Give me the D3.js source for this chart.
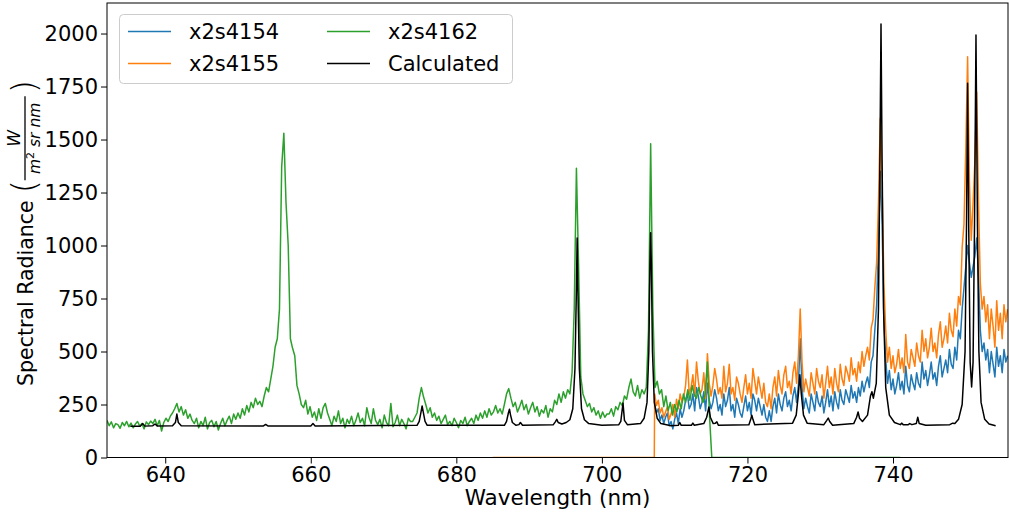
<!DOCTYPE html>
<html>
<head>
<meta charset="utf-8">
<script src="https://cdn.jsdelivr.net/npm/d3@7"></script>
<style>
  body { margin: 0; background: #fff; }
  text { font-family: "DejaVu Sans", sans-serif; }
</style>
</head>
<body>
<div id="chart"></div>
<script>
// Spectral data (wavelength in nm, radiance in W/(m^2 sr nm))

// x2s4162 (green) sampled every 0.3 nm from 632 nm
var greenStart = 632, greenStep = 0.3;
var greenValues = [
  175, 150, 168, 140, 160, 155, 138, 165, 150, 170,
  145, 162, 140, 158, 170, 148, 160, 135, 168, 155,
  172, 160, 180, 150, 175, 125, 165, 185, 170, 195,
  210, 230, 255, 215, 240, 200, 225, 185, 205, 175,
  160, 185, 140, 170, 150, 190, 135, 165, 175, 145,
  170, 130, 160, 185, 150, 175, 195, 160, 205, 180,
  210, 185, 230, 200, 245, 215, 260, 235, 280, 250,
  265, 240, 290, 330, 310, 370, 430, 520, 560, 700,
  1370, 1530, 1200, 1000, 560, 515, 480, 340, 300, 250,
  235, 270, 205, 240, 190, 215, 175, 230, 185, 235,
  255, 210, 180, 150, 195, 170, 220, 160, 185, 140,
  180, 160, 195, 150, 175, 210, 165, 185, 150, 235,
  190, 160, 230, 175, 155, 180, 140, 200, 165, 150,
  255, 145, 165, 200, 150, 180, 160, 135, 185, 170,
  170, 190, 210, 280, 330, 285, 250, 210, 235, 190,
  210, 175, 195, 160, 180, 200, 155, 170, 150, 185,
  165, 140, 175, 160, 190, 150, 170, 185, 160, 200,
  175, 210, 185, 220, 190, 230, 200, 215, 245, 210,
  230, 205, 250, 300, 325, 280, 240, 260, 215, 240,
  270, 225, 250, 205, 235, 260, 215, 240, 195, 225,
  210, 245, 190, 230, 215, 270, 250, 300, 260, 310,
  280, 320, 300, 400, 700, 1365, 900, 380, 300, 270,
  240, 255, 215, 235, 200, 220, 185, 215, 190, 205,
  205, 230, 195, 240, 225, 260, 245, 290, 275, 330,
  370, 310, 290, 340, 280, 320, 300, 330, 600, 1480,
  700, 330, 360, 300, 320, 240, 290, 220, 260, 200,
  250, 215, 270, 230, 300, 260, 320, 270, 340, 295,
  280, 330, 290, 260, 300, 450, 190, 0
];
var greenTail = [[741, 0]];

// x2s4154 (blue) and x2s4155 (orange) sampled every 0.25 nm from 707.25 nm
var pairStart = 707.25, pairStep = 0.25;
var orangeLead = [[685, 0], [707.2, 0]];
var orangeValues = [
  300, 245, 270, 210, 235, 190, 215, 240,
  180, 205, 250, 190, 275, 230, 300, 260,
  285, 340, 460, 300, 330, 390, 290, 450,
  360, 300, 320, 400, 280, 490, 350, 290,
  340, 420, 370, 300, 330, 280, 430, 310,
  350, 440, 300, 330, 270, 380, 350, 300,
  260, 330, 390, 300, 350, 280, 420, 360,
  300, 380, 330, 280, 350, 260, 240, 300,
  230, 330, 380, 290, 410, 340, 300, 390,
  430, 330, 360, 300, 400, 450, 350, 480,
  700, 450, 310, 370, 330, 290, 400, 350,
  300, 420, 360, 330, 390, 280, 350, 430,
  330, 380, 300, 420, 350, 310, 440, 370,
  340, 430, 400, 360, 470, 390, 420, 360,
  450, 400, 500, 430, 480, 520, 460, 610,
  650, 800, 920, 1200, 1600, 1280, 820, 600,
  450, 520, 420, 480, 400, 440, 510, 420,
  470, 400, 580, 450, 420, 510, 470, 430,
  540, 480, 450, 600, 500, 560, 470, 520,
  610, 500, 540, 470, 580, 640, 520, 560,
  620, 540, 680, 600, 570, 700, 620, 760,
  720, 990, 1100, 1450, 1890, 1300, 1025, 1200,
  1400, 1724, 1200, 820, 700, 760, 640, 720,
  560, 700, 620, 520, 740, 600, 680, 560, 720, 640, 700
];
var blueValues = [
  250, 210, 230, 175, 200, 160, 190, 210,
  150, 170, 135, 180, 210, 160, 230, 190,
  220, 270, 300, 230, 250, 300, 220, 330,
  290, 230, 260, 310, 220, 350, 270, 230,
  260, 320, 280, 220, 250, 200, 300, 240,
  270, 330, 220, 250, 190, 280, 250, 210,
  190, 240, 290, 220, 260, 200, 300, 270,
  220, 280, 240, 200, 250, 190, 170, 220,
  170, 240, 280, 210, 300, 250, 220, 280,
  310, 240, 270, 220, 290, 330, 260, 340,
  560, 330, 230, 280, 240, 210, 300, 260,
  220, 310, 260, 240, 290, 210, 260, 320,
  240, 290, 220, 310, 260, 230, 320, 270,
  250, 320, 290, 260, 340, 280, 310, 260,
  330, 290, 360, 310, 350, 380, 330, 450,
  480, 600, 720, 1000, 1350, 1100, 650, 460,
  350, 410, 320, 370, 300, 340, 400, 320,
  360, 300, 430, 340, 310, 390, 350, 320,
  400, 350, 330, 450, 370, 410, 340, 390,
  450, 370, 400, 340, 430, 480, 380, 420,
  460, 400, 510, 440, 420, 520, 460, 600,
  560, 700, 800, 900, 1000, 920, 850, 900,
  950, 1035, 850, 600, 500, 540, 460, 510,
  400, 500, 440, 380, 520, 430, 480, 400, 510, 450, 480
];

// Calculated spectrum (black): [wavelength, radiance]
var calculated = [
  [635.2,148],[636.6,148],[636.9,160],[637.2,148],[638.3,150],[638.6,158],[638.9,149],
  [641.0,150],[641.4,165],[641.6,205],[641.8,165],[642.2,150],[653.5,149],[653.8,156],[654.1,149],
  [660.0,149],[660.3,160],[660.6,149],[674.6,152],[674.9,170],[675.15,215],[675.3,243],[675.45,215],
  [675.7,170],[676.0,152],[686.6,152],[686.9,170],[687.15,210],[687.3,228],[687.45,200],[687.7,165],
  [688.2,152],[688.6,155],[688.8,165],[689.1,152],[693.3,154],[693.6,168],[693.8,180],[694.0,165],
  [694.5,158],[695.1,165],[695.6,178],[696.0,230],[696.3,420],[696.5,800],[696.6,1035],[696.7,800],
  [696.9,420],[697.2,230],[697.6,178],[698.2,160],[700.0,152],[702.3,154],[702.6,170],[702.9,257],
  [703.1,175],[703.5,155],[705.3,160],[705.8,185],[706.2,260],[706.45,500],[706.6,900],[706.7,1060],
  [706.8,900],[706.95,500],[707.2,260],[707.6,185],[708.1,160],[709.5,150],[710.5,152],[710.7,165],
  [710.9,152],[712.3,152],[712.5,162],[712.7,152],[714.0,160],[714.4,190],[714.7,238],[714.9,190],
  [715.3,160],[715.6,162],[715.8,168],[716.0,152],[720.2,155],[720.45,180],[720.6,200],[720.75,180],
  [721.0,155],[726.2,162],[726.7,200],[727.0,300],[727.2,390],[727.4,300],[727.7,200],[728.2,162],
  [730.5,155],[730.9,175],[731.1,186],[731.3,170],[731.7,152],[734.6,160],[735.0,190],[735.2,215],
  [735.4,185],[735.8,170],[736.5,200],[736.9,290],[737.1,310],[737.3,280],[737.7,350],[738.0,700],
  [738.2,1400],[738.35,2045],[738.5,1400],[738.7,700],[739.0,330],[739.5,200],[740.2,165],[741.0,155],
  [741.2,162],[741.4,155],[742.1,155],[742.3,160],[742.6,155],[743.2,160],[743.4,190],[743.6,160],
  [744.5,152],[747.8,155],[748.2,162],[748.5,160],[749.0,180],[749.5,250],[749.9,500],[750.1,1100],
  [750.25,1765],[750.4,1100],[750.6,450],[750.8,333],[751.0,450],[751.2,1100],[751.4,1993],[751.6,1100],
  [751.8,500],[752.1,260],[752.6,180],[753.2,158],[754.1,150]
];

var xTicks = [640, 660, 680, 700, 720, 740];
var yTicks = [0, 250, 500, 750, 1000, 1250, 1500, 1750, 2000];
var seriesNames = ["x2s4154", "x2s4155", "x2s4162", "Calculated"];
var seriesColors = ["#1f77b4", "#ff7f0e", "#2ca02c", "#000000"];

// Build point lists
var green = greenValues.map((v, i) => [greenStart + i * greenStep, v]).concat(greenTail);
var orange = orangeLead.concat(orangeValues.map((v, i) => [pairStart + i * pairStep, v]));
var blue = blueValues.map((v, i) => [pairStart + i * pairStep, v]);

// Dimensions
var svgWidth = 1009;
var svgHeight = 516;
var margin = { top: 3, bottom: 58.5, left: 107, right: 1 };
var width = svgWidth - margin.left - margin.right;
var height = svgHeight - margin.top - margin.bottom;

var svg = d3.select("#chart")
  .append("svg")
  .attr("width", svgWidth)
  .attr("height", svgHeight);

var chartGroup = svg.append("g")
  .attr("transform", `translate(${margin.left}, ${margin.top})`);

var xScale = d3.scaleLinear().domain([632, 755.8]).range([0, width]);
var yScale = d3.scaleLinear().domain([0, 2144]).range([height, 0]);

chartGroup.append("clipPath")
  .attr("id", "plotClip")
  .append("rect")
  .attr("width", width)
  .attr("height", height);

var line = d3.line()
  .x(d => xScale(d[0]))
  .y(d => yScale(d[1]));

// Draw series in legend order
var allSeries = [blue, orange, green, calculated];
var linesGroup = chartGroup.append("g").attr("clip-path", "url(#plotClip)");
allSeries.forEach(function (data, i) {
  linesGroup.append("path")
    .datum(data)
    .attr("d", line)
    .attr("fill", "none")
    .attr("stroke", seriesColors[i])
    .attr("stroke-width", 1.5)
    .attr("stroke-linejoin", "round");
});

// Axes
var bottomAxis = d3.axisBottom(xScale).tickValues(xTicks).tickSize(6).tickPadding(4).tickFormat(d3.format("d"));
var leftAxis = d3.axisLeft(yScale).tickValues(yTicks).tickSize(6).tickPadding(3).tickFormat(d3.format("d"));

var xAxis = chartGroup.append("g")
  .attr("transform", `translate(0, ${height})`)
  .call(bottomAxis);
var yAxis = chartGroup.append("g").call(leftAxis);

[xAxis, yAxis].forEach(function (ax) {
  ax.select(".domain").remove();
  ax.selectAll("text")
    .attr("fill", "#000")
    .style("font-family", "DejaVu Sans")
    .style("font-size", "21px");
  ax.selectAll("line").attr("stroke", "#000").attr("stroke-width", 1);
});

// Frame
chartGroup.append("rect")
  .attr("width", width)
  .attr("height", height)
  .attr("fill", "none")
  .attr("stroke", "#000")
  .attr("stroke-width", 1);

// X label
svg.append("text")
  .attr("x", margin.left + width / 2)
  .attr("y", 505)
  .attr("text-anchor", "middle")
  .style("font-size", "21.5px")
  .text("Wavelength (nm)");

// Y label with fraction unit
var yLabel = svg.append("g")
  .attr("transform", "translate(33, 0) rotate(-90)");
var mainText = yLabel.append("text")
  .attr("x", -386)
  .attr("y", 0)
  .style("font-size", "20.5px")
  .text("Spectral Radiance");
var endX = -386 + mainText.node().getComputedTextLength() + 7;
yLabel.append("text")
  .attr("x", endX)
  .attr("y", 3)
  .style("font-size", "34px")
  .style("font-weight", "200")
  .text("(");
var fracStart = endX + 13;
var fracW = 84;
yLabel.append("text")
  .attr("x", fracStart + fracW / 2)
  .attr("y", -13)
  .attr("text-anchor", "middle")
  .style("font-size", "17px")
  .style("font-style", "italic")
  .text("W");
yLabel.append("line")
  .attr("x1", fracStart)
  .attr("x2", fracStart + fracW)
  .attr("y1", -8)
  .attr("y2", -8)
  .attr("stroke", "#000")
  .attr("stroke-width", 1.3);
var den = yLabel.append("text")
  .attr("x", fracStart + fracW / 2)
  .attr("y", 7)
  .attr("text-anchor", "middle")
  .style("font-size", "15.5px")
  .style("font-style", "italic");
den.append("tspan").text("m");
den.append("tspan").attr("dy", -6).style("font-size", "11px").style("font-style", "normal").text("2");
den.append("tspan").attr("dy", 6).text(" sr nm");
yLabel.append("text")
  .attr("x", fracStart + fracW + 3)
  .attr("y", 3)
  .style("font-size", "34px")
  .style("font-weight", "200")
  .text(")");

// Legend
var legend = svg.append("g");
legend.append("rect")
  .attr("x", 119.5)
  .attr("y", 14.5)
  .attr("width", 393)
  .attr("height", 69)
  .attr("rx", 4)
  .attr("fill", "#fff")
  .attr("fill-opacity", 0.8)
  .attr("stroke", "#cccccc")
  .attr("stroke-width", 1);

var legendCols = [128, 327];
var legendRows = [31.5, 63.5];
seriesNames.forEach(function (name, i) {
  var cx = legendCols[Math.floor(i / 2)];
  var cy = legendRows[i % 2];
  legend.append("line")
    .attr("x1", cx)
    .attr("x2", cx + 43)
    .attr("y1", cy)
    .attr("y2", cy)
    .attr("stroke", seriesColors[i])
    .attr("stroke-width", 1.5);
  legend.append("text")
    .attr("x", cx + 61)
    .attr("y", cy)
    .attr("dy", "0.36em")
    .style("font-size", "21px")
    .text(name);
});
</script>
</body>
</html>
